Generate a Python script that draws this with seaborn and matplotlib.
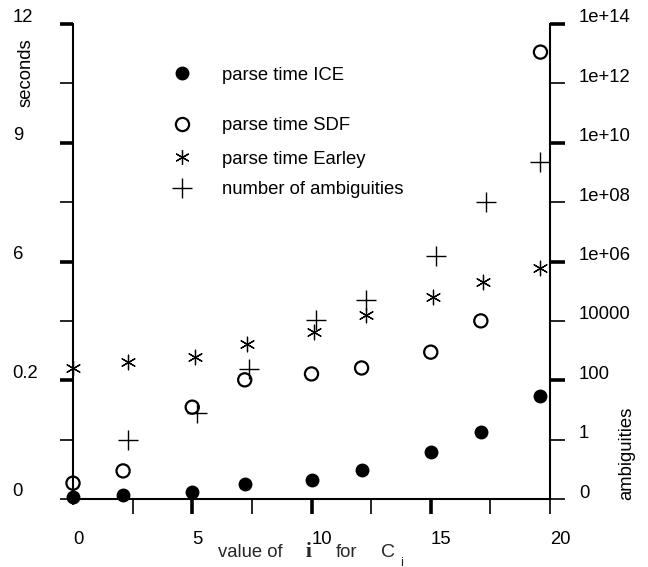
import numpy as np
import matplotlib
matplotlib.use("Agg")
import matplotlib.pyplot as plt
import matplotlib.transforms as mtransforms
from matplotlib.lines import Line2D
import seaborn as sns

# ---------------- data ----------------
ice_x = [0, 2.1, 5.0, 7.2, 10.0, 12.1, 15.0, 17.1, 19.6]
ice_y = [0.05, 0.10, 0.18, 0.38, 0.48, 0.73, 1.19, 1.69, 2.60]

sdf_x = [0, 2.1, 5.0, 7.2, 10.0, 12.1, 15.0, 17.1, 19.6]
sdf_y = [0.40, 0.71, 2.32, 3.01, 3.16, 3.31, 3.71, 4.50, 11.29]

earley_x = [0, 2.3, 5.1, 7.3, 10.1, 12.3, 15.1, 17.2, 19.6]
earley_y = [3.31, 3.46, 3.59, 3.92, 4.22, 4.65, 5.10, 5.48, 5.84]

amb_x = [2.3, 5.2, 7.4, 10.2, 12.3, 15.2, 17.3, 19.6]
amb_y = [1, 8, 240, 1.05e4, 5e4, 1.5e6, 1e8, 2.3e9]

left_ticks = [0, 3, 6, 9, 12]
left_labels = ["0", "0.2", "6", "9", "12"]
left_minor = [1.5, 4.5, 7.5, 10.5]

right_ticks = [0, 1, 100, 1e4, 1e6, 1e8, 1e10, 1e12, 1e14]
right_labels = ["0", "1", "100", "10000", "1e+06", "1e+08", "1e+10", "1e+12", "1e+14"]

x_ticks = [0, 5, 10, 15, 20]
x_labels = ["0", "5", "10", "15", "20"]
x_minor = [2.5, 7.5, 12.5, 17.5]

legend_labels = ["parse time ICE", "parse time SDF", "parse time Earley", "number of ambiguities"]

# ---------------- style ----------------
sns.set_theme(style="white")
plt.rcParams["font.family"] = ["Liberation Sans", "DejaVu Sans"]
FS = 13.3
THICK, THIN, SPW = 2.6, 1.2, 1.5
ASTER = (6, 2, 0)

fig = plt.figure(figsize=(6.48, 5.67), dpi=100)
W, H = 648, 567
ax = fig.add_axes([73 / W, 68 / H, 477 / W, 475 / H])
ax.set_facecolor("white")

sns.scatterplot(x=ice_x, y=ice_y, ax=ax, marker="o", s=100, color="black",
                edgecolor="black", linewidth=0, clip_on=False, zorder=5)
sns.scatterplot(x=sdf_x, y=sdf_y, ax=ax, marker="o", s=90, color="black",
                facecolor="none", edgecolor="black", linewidth=1.6, clip_on=False, zorder=5)
sns.scatterplot(x=earley_x, y=earley_y, ax=ax, marker=ASTER, s=110, color="black",
                linewidth=0.9, clip_on=False, zorder=5)

ax.set_xlim(0, 20)
ax.set_ylim(0, 12)
ax.set_xlabel("")
ax.set_ylabel("")

ax2 = ax.twinx()


def fwd(v):
    v = np.asarray(v, dtype=float)
    return np.where(v > 1, np.log10(np.maximum(v, 1.0)) / 2 + 1, v)


def inv(p):
    p = np.asarray(p, dtype=float)
    return np.where(p > 1, 10 ** (2 * (np.minimum(p, 20) - 1)), p)


ax2.set_yscale("function", functions=(fwd, inv))
sns.scatterplot(x=amb_x, y=amb_y, ax=ax2, marker="+", s=200, color="black",
                linewidth=1.0, clip_on=False, zorder=5)
ax2.set_ylim(0, 1e14)
ax2.set_xlim(0, 20)

# ---------------- spines ----------------
for s in ["top", "right"]:
    ax.spines[s].set_visible(False)
for s in ["left", "bottom"]:
    ax.spines[s].set_linewidth(SPW)
    ax.spines[s].set_color("black")
for s in ["top", "left", "bottom"]:
    ax2.spines[s].set_visible(False)
ax2.spines["right"].set_linewidth(SPW)
ax2.spines["right"].set_color("black")

# ---------------- ticks ----------------
ax.set_xticks(x_ticks)
ax.set_xticklabels(x_labels)
ax.set_xticks(x_minor, minor=True)
ax.tick_params(axis="x", which="both", direction="out", length=10.8, bottom=True, top=False,
               labelsize=FS, pad=12.0, color="black", labelcolor="black")
ax.tick_params(axis="x", which="major", width=THICK)
ax.tick_params(axis="x", which="minor", width=THIN)

ax.set_yticks(left_ticks)
ax.set_yticklabels(left_labels)
ax.set_yticks(left_minor, minor=True)
ax.tick_params(axis="y", which="both", direction="out", length=9.4, left=True, right=False,
               labelsize=FS, pad=34.0, color="black", labelcolor="black")
ax.tick_params(axis="y", which="major", width=THICK)
ax.tick_params(axis="y", which="minor", width=THIN)

ax2.set_yticks(right_ticks)
ax2.set_yticklabels(right_labels)
ax2.yaxis.set_minor_locator(matplotlib.ticker.NullLocator())
ax2.tick_params(axis="y", which="major", direction="out", length=10.8, width=THIN,
                right=True, left=False, labelright=True, labelleft=False,
                labelsize=FS, pad=10, color="black", labelcolor="black")
ax2.tick_params(axis="x", which="both", bottom=False, top=False, labelbottom=False)

fig.canvas.draw()

# individual tick tweaks
xt = ax.xaxis.get_major_ticks()
xt[0].tick1line.set_markersize(4.3)
xt[0].tick1line.set_markeredgewidth(THIN)
xt[-1].tick1line.set_markeredgewidth(THIN)
yt = ax.yaxis.get_major_ticks()
yt[0].tick1line.set_markeredgewidth(THIN)
rt = ax2.yaxis.get_major_ticks()
for i, t in enumerate(rt):
    t.tick2line.set_markeredgewidth(THICK if i in (2, 4, 6, 8) else THIN)

for lab in ax.get_xticklabels():
    lab.set_horizontalalignment("left")
for lab in ax.get_yticklabels():
    lab.set_horizontalalignment("left")
    lab.set_transform(lab.get_transform() +
                      mtransforms.ScaledTranslation(0, 9 / 100, fig.dpi_scale_trans))
for lab in ax2.get_yticklabels():
    lab.set_transform(lab.get_transform() +
                      mtransforms.ScaledTranslation(0, 8 / 100, fig.dpi_scale_trans))

# ---------------- axis labels ----------------
ax.set_ylabel("seconds", fontsize=FS, color="black", va="center")
ax.yaxis.set_label_coords((26 - 73) / 477, (499 - 73) / 475)
ax2.set_ylabel("ambiguities", fontsize=FS, color="black", va="center")
ax2.yaxis.set_label_coords((627 - 73) / 477, (499 - 453) / 475)

base = 1 - 557 / H
fig.text(218 / W, base, "value of", fontsize=FS, va="baseline", ha="left")
fig.text(306 / W, base, "i", fontsize=15.5, va="baseline", ha="left",
         family=["Liberation Serif", "DejaVu Serif"], fontweight="bold")
fig.text(336 / W, base, "for", fontsize=FS, va="baseline", ha="left")
fig.text(381 / W, base, "C", fontsize=14, va="baseline", ha="left")
fig.text(400 / W, 1 - 565.5 / H, "i", fontsize=9.5, va="baseline", ha="left")

# ---------------- legend (one entry per legend, uneven spacing) ----------------
handles = [
    Line2D([], [], ls="none", marker="o", markersize=10, markerfacecolor="black",
           markeredgecolor="black", markeredgewidth=0),
    Line2D([], [], ls="none", marker="o", markersize=9.5, markerfacecolor="none",
           markeredgecolor="black", markeredgewidth=1.6),
    Line2D([], [], ls="none", marker=ASTER, markersize=10.5, color="black",
           markeredgewidth=0.9),
    Line2D([], [], ls="none", marker="+", markersize=14, color="black",
           markeredgewidth=1.0),
]
leg_y = [75, 126, 159, 190]
x_anchor = (173 - 73) / 477
for h, lab, ypx in zip(handles, legend_labels, leg_y):
    leg = ax2.legend(handles=[h], labels=[lab], loc="center left",
                     bbox_to_anchor=(x_anchor, (499 - ypx) / 475), frameon=False,
                     borderpad=0, borderaxespad=0, handlelength=1.0,
                     handletextpad=1.66, fontsize=FS, labelcolor="black")
    ax2.add_artist(leg)
ax2.legend_ = None

fig.savefig("out.png", dpi=100, facecolor="white")
